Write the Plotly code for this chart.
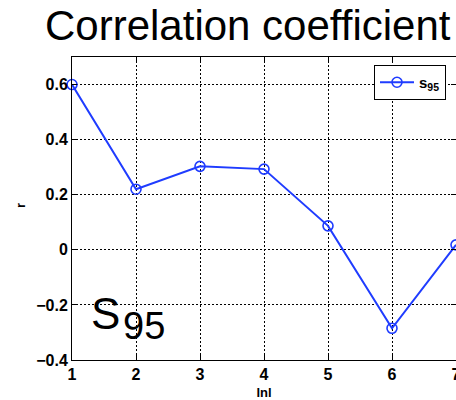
import plotly.graph_objects as go

# |n| lags and correlation coefficients for the s95 series
lags = [1, 2, 3, 4, 5, 6, 7]
r_values = [0.600, 0.220, 0.303, 0.293, 0.087, -0.285, 0.018]
x_ticks = [1, 2, 3, 4, 5, 6, 7]
y_ticks = [-0.4, -0.2, 0, 0.2, 0.4, 0.6]
y_tick_text = ["\u22120.4", "\u22120.2", "0", "0.2", "0.4", "0.6"]

W, H = 456, 400
L, R, T, B = 72, 0, 57, 40
FONT = "Liberation Sans, Arial, sans-serif"
BLUE = "#1f3cff"


def px_x(p):
    return (p - L) / (W - L - R)


def px_y(p):
    return (H - B - p) / (H - T - B)


fig = go.Figure()
fig.add_trace(go.Scatter(
    x=lags, y=r_values,
    mode="lines+markers",
    name="<b>s<sub>95</sub></b>",
    line=dict(color=BLUE, width=2),
    marker=dict(symbol="circle-open", size=10, color=BLUE, line=dict(width=1.6, color=BLUE)),
    cliponaxis=False,
))

axis_common = dict(
    showline=True, linecolor="black", linewidth=1, mirror="ticks",
    ticks="inside", ticklen=5, tickcolor="black", tickwidth=1,
    showgrid=True, gridcolor="black", gridwidth=1, griddash="2px,2px",
    zeroline=False, automargin=False,
    ticklabeloverflow="allow",
    tickfont=dict(family=FONT, size=16, color="black", weight="bold"),
)

fig.update_xaxes(
    range=[1, 7], tickvals=x_ticks, ticktext=[str(v) for v in x_ticks],
    title=dict(text="<b>lnl</b>", font=dict(family=FONT, size=13, color="black")),
    **axis_common,
)
fig.update_yaxes(
    range=[-0.4, 0.7], tickvals=y_ticks, ticktext=y_tick_text,
    **axis_common,
)

fig.update_layout(
    width=W, height=H,
    margin=dict(l=L, r=R, t=T, b=B),
    paper_bgcolor="white", plot_bgcolor="white",
    showlegend=True,
    legend=dict(
        x=px_x(374), y=px_y(65), xanchor="left", yanchor="top",
        bgcolor="white", bordercolor="black", borderwidth=1,
        font=dict(family=FONT, size=15, color="black"),
        itemwidth=34, tracegroupgap=0,
    ),
    annotations=[
        dict(text="Correlation coefficient", xref="paper", yref="paper",
             x=px_x(248), y=px_y(26), xanchor="center", yanchor="middle",
             showarrow=False, font=dict(family=FONT, size=42, color="black")),
        dict(text="<b>r</b>", xref="paper", yref="paper", textangle=-90,
             x=px_x(20), y=px_y(206), xanchor="center", yanchor="middle",
             showarrow=False, font=dict(family=FONT, size=13, color="black")),
        dict(text="S", xref="paper", yref="paper",
             x=px_x(89), y=px_y(313), xanchor="left", yanchor="middle",
             showarrow=False, font=dict(family=FONT, size=44, color="black")),
        dict(text="95", xref="paper", yref="paper",
             x=px_x(121), y=px_y(326), xanchor="left", yanchor="middle",
             showarrow=False, font=dict(family=FONT, size=38, color="black")),
    ],
)

fig.write_html("out.html")
